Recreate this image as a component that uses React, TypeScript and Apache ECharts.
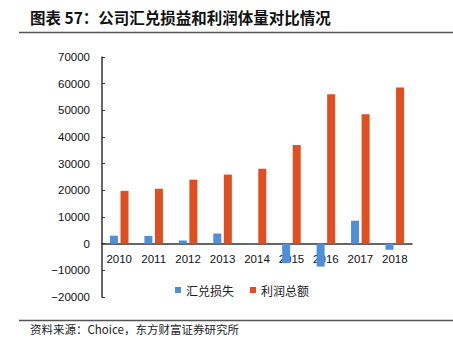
import React, { useEffect, useRef } from "react";
import * as echarts from "echarts";

const categories = ["2010", "2011", "2012", "2013", "2014", "2015", "2016", "2017", "2018"];
const fxLoss = [3000, 2900, 1200, 3800, -200, -7300, -8600, 8600, -2300];
const totalProfit = [19800, 20600, 24000, 25900, 28100, 37000, 56000, 48500, 58600];
const seriesNames = ["汇兑损失", "利润总额"];
const titleText = "图表 57：公司汇兑损益和利润体量对比情况";
const sourceText = "资料来源：Choice，东方财富证券研究所";
const yMin = -20000;
const yMax = 70000;

export default function App() {
  const ref = useRef<HTMLDivElement>(null);
  useEffect(() => {
    if (!ref.current) return;
    const chart = echarts.init(ref.current, null, { renderer: "svg" });
    const cjk = "'Noto Sans CJK SC', sans-serif";
    const num = "'Liberation Sans', Arial, sans-serif";
    const gridTop = 57;
    const gridBottom = 53;
    const gridH = 350 - gridTop - gridBottom;
    const zeroOffset = -(gridH * (0 - yMin)) / (yMax - yMin);
    chart.setOption({
      animation: false,
      backgroundColor: "#ffffff",
      graphic: [
        {
          type: "text",
          left: 30,
          top: 9,
          style: { text: titleText, font: `bold 15.5px ${cjk}`, fill: "#111" },
        },
        {
          type: "line",
          shape: { x1: 19, y1: 32.5, x2: 453, y2: 32.5 },
          style: { stroke: "#555", lineWidth: 1.5 },
        },
        {
          type: "line",
          shape: { x1: 19, y1: 320.5, x2: 453, y2: 320.5 },
          style: { stroke: "#555", lineWidth: 1.5 },
        },
        {
          type: "text",
          left: 30,
          top: 323,
          style: { text: sourceText, font: `11.5px ${cjk}`, fill: "#222" },
        },
      ],
      legend: {
        data: seriesNames,
        left: 170,
        top: 279,
        icon: "rect",
        itemWidth: 6,
        itemHeight: 6,
        itemGap: 16,
        textStyle: { fontFamily: cjk, fontSize: 12, color: "#222" },
      },
      grid: { left: 102, right: 41, top: gridTop, bottom: gridBottom },
      xAxis: {
        type: "category",
        data: categories,
        offset: zeroOffset,
        axisLine: { onZero: false, lineStyle: { color: "#333", width: 1.5 } },
        axisTick: { inside: true, length: 3, lineStyle: { color: "#333" } },
        axisLabel: { fontFamily: num, fontSize: 11.5, color: "#111", margin: 9 },
      },
      yAxis: {
        type: "value",
        min: yMin,
        max: yMax,
        interval: 10000,
        splitLine: { show: false },
        axisLine: { show: true, lineStyle: { color: "#333", width: 1.5 } },
        axisTick: { show: true, inside: true, length: 3, lineStyle: { color: "#333" } },
        axisLabel: {
          fontFamily: num,
          fontSize: 11.5,
          color: "#111",
          margin: 12,
          formatter: (v: number) => (v < 0 ? "\u2212" + String(-v) : String(v)),
        },
      },
      series: [
        {
          name: seriesNames[0],
          type: "bar",
          data: fxLoss,
          barWidth: 8,
          barGap: "32%",
          itemStyle: { color: "#4F8FDA" },
        },
        {
          name: seriesNames[1],
          type: "bar",
          data: totalProfit,
          barWidth: 8,
          itemStyle: { color: "#E04F1F" },
        },
      ],
    });
    return () => chart.dispose();
  }, []);
  return (
    <div
      ref={ref}
      style={{ position: "fixed", left: 0, top: 0, width: 453, height: 350, background: "#fff" }}
    />
  );
}
